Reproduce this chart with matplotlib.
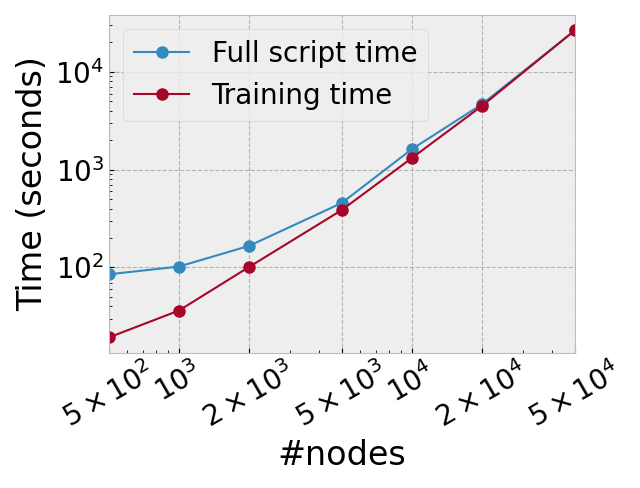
import numpy as np
import matplotlib
matplotlib.use("Agg")
import matplotlib.pyplot as plt

plt.style.use("bmh")
plt.rcParams["mathtext.fontset"] = "dejavusans"
plt.rcParams["font.size"] = 20

nodes = [500, 1000, 2000, 5000, 10000, 20000, 50000]
node_labels = [r"$5\times10^{2}$", r"$10^{3}$", r"$2\times10^{3}$", r"$5\times10^{3}$",
               r"$10^{4}$", r"$2\times10^{4}$", r"$5\times10^{4}$"]
full_time = [85, 102, 166, 456, 1620, 4670, 26500]
train_time = [19.2, 36.2, 101, 386, 1315, 4490, 26500]

fig, ax = plt.subplots(figsize=(6.4, 4.88), dpi=100)
ax.plot(nodes, full_time, marker="o", markersize=8, linewidth=1.5, label="Full script time")
ax.plot(nodes, train_time, marker="o", markersize=8, linewidth=1.5, label="Training time")
ax.set_xscale("log")
ax.set_yscale("log")
ax.set_xticks(nodes, labels=node_labels)
ax.set_xlim(500, 50000)
ax.tick_params(axis="x", labelrotation=30)
ax.grid(True, which="major", linestyle="--", linewidth=0.8, color="#b2b2b2")
ax.set_xlabel("#nodes")
ax.set_ylabel("Time (seconds)")
ax.legend(loc="upper left")
fig.subplots_adjust(left=0.170, right=0.898, top=0.969, bottom=0.277)
fig.savefig("out.png")
